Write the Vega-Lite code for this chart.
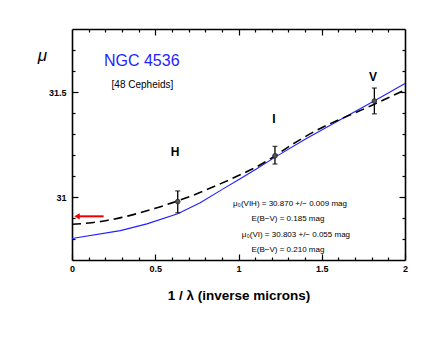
{
  "$schema": "https://vega.github.io/schema/vega-lite/v6.json",
  "autosize": {"type": "none"},
  "width": 333,
  "height": 231,
  "padding": {"left": 72, "top": 29, "right": 31, "bottom": 77},
  "background": "white",
  "config": {
    "view": {"stroke": null},
    "font": "Liberation Sans",
    "axis": {
      "domainColor": "black", "domainWidth": 1.6, "tickColor": "black", "tickWidth": 1.2,
      "grid": false, "labelFont": "Liberation Sans", "labelFontSize": 9, "labelFontWeight": "bold",
      "labelColor": "black", "labelOverlap": false, "labelFlush": false
    }
  },
  "datasets": {
    "curves": [
      {"x": 0, "mu": 30.870, "fit": "VIH"}, {"x": 0.1, "mu": 30.876, "fit": "VIH"}, {"x": 0.2, "mu": 30.887, "fit": "VIH"},
      {"x": 0.3, "mu": 30.903, "fit": "VIH"}, {"x": 0.4, "mu": 30.923, "fit": "VIH"}, {"x": 0.5, "mu": 30.946, "fit": "VIH"},
      {"x": 0.6, "mu": 30.972, "fit": "VIH"}, {"x": 0.7, "mu": 31.000, "fit": "VIH"}, {"x": 0.8, "mu": 31.032, "fit": "VIH"},
      {"x": 0.9, "mu": 31.066, "fit": "VIH"}, {"x": 1.0, "mu": 31.102, "fit": "VIH"}, {"x": 1.1, "mu": 31.140, "fit": "VIH"},
      {"x": 1.2, "mu": 31.186, "fit": "VIH"}, {"x": 1.3, "mu": 31.239, "fit": "VIH"}, {"x": 1.4, "mu": 31.287, "fit": "VIH"},
      {"x": 1.5, "mu": 31.330, "fit": "VIH"}, {"x": 1.6, "mu": 31.367, "fit": "VIH"}, {"x": 1.7, "mu": 31.401, "fit": "VIH"},
      {"x": 1.8, "mu": 31.436, "fit": "VIH"}, {"x": 1.9, "mu": 31.473, "fit": "VIH"}, {"x": 2.0, "mu": 31.510, "fit": "VIH"},
      {"x": 0, "mu": 30.802, "fit": "VI"}, {"x": 0.29, "mu": 30.840, "fit": "VI"}, {"x": 0.45, "mu": 30.872, "fit": "VI"},
      {"x": 0.635, "mu": 30.920, "fit": "VI"}, {"x": 0.77, "mu": 30.973, "fit": "VI"}, {"x": 0.9, "mu": 31.035, "fit": "VI"},
      {"x": 1.0, "mu": 31.082, "fit": "VI"}, {"x": 1.1, "mu": 31.130, "fit": "VI"}, {"x": 1.22, "mu": 31.190, "fit": "VI"},
      {"x": 1.4, "mu": 31.275, "fit": "VI"}, {"x": 1.6, "mu": 31.363, "fit": "VI"}, {"x": 1.82, "mu": 31.460, "fit": "VI"},
      {"x": 2.0, "mu": 31.540, "fit": "VI"}
    ],
    "points": [
      {"band": "H", "x": 0.635, "mu": 30.978, "lo": 30.925, "hi": 31.029},
      {"band": "I", "x": 1.219, "mu": 31.196, "lo": 31.157, "hi": 31.241},
      {"band": "V", "x": 1.816, "mu": 31.457, "lo": 31.396, "hi": 31.519}
    ],
    "bands": [
      {"x": 0.619, "mu": 31.214, "text": "H"},
      {"x": 1.213, "mu": 31.372, "text": "I"},
      {"x": 1.808, "mu": 31.573, "text": "V"}
    ],
    "arrow": [
      {"x": 0.19, "mu": 30.908}, {"x": 0.03, "mu": 30.908}
    ],
    "notes": [
      {"x": 1.309, "mu": 30.968, "text": "μ₀(VIH) = 30.870 +/− 0.009 mag"},
      {"x": 1.297, "mu": 30.897, "text": "E(B−V) = 0.185 mag"},
      {"x": 1.345, "mu": 30.817, "text": "μ₀(VI) = 30.803 +/− 0.055 mag"},
      {"x": 1.297, "mu": 30.746, "text": "E(B−V) = 0.210 mag"}
    ],
    "titles": [
      {"x": 0.419, "mu": 31.650, "text": "NGC 4536", "kind": "name"},
      {"x": 0.423, "mu": 31.535, "text": "[48 Cepheids]", "kind": "count"}
    ],
    "frame": [{"x": 0, "mu": 31}]
  },
  "layer": [
    {
      "encoding": {
        "x": {
          "field": "x", "type": "quantitative",
          "scale": {"domain": [0, 2], "nice": false, "zero": false},
          "axis": {
            "title": "1 / λ (inverse microns)", "titleFontSize": 13.5, "titleFontWeight": "bold", "titleColor": "black",
            "titlePadding": 12, "labelPadding": 10, "format": "~g",
            "values": [0, 0.1, 0.2, 0.3, 0.4, 0.5, 0.6, 0.7, 0.8, 0.9, 1, 1.1, 1.2, 1.3, 1.4, 1.5, 1.6, 1.7, 1.8, 1.9, 2],
            "tickSize": {"condition": {"test": "abs(datum.value*2 - round(datum.value*2)) < 0.000001", "value": -6}, "value": -3},
            "labelExpr": "abs(datum.value*2 - round(datum.value*2)) < 0.000001 ? datum.label : ''"
          }
        },
        "y": {
          "field": "mu", "type": "quantitative",
          "scale": {"domain": [30.7, 31.8], "nice": false, "zero": false},
          "axis": {
            "title": "μ", "titleAngle": 0, "titleFontSize": 17, "titleFontStyle": "italic", "titleFontWeight": "normal",
            "titleColor": "black", "titleX": -30, "titleY": 26, "titleAlign": "center", "titleBaseline": "middle",
            "labelPadding": 12, "format": "~g",
            "values": [30.8, 30.9, 31, 31.1, 31.2, 31.3, 31.4, 31.5, 31.6, 31.7],
            "tickSize": {"condition": {"test": "abs(datum.value*2 - round(datum.value*2)) < 0.000001", "value": -6}, "value": -3},
            "labelExpr": "abs(datum.value*2 - round(datum.value*2)) < 0.000001 ? datum.label : ''"
          }
        }
      },
      "layer": [
        {
          "data": {"name": "curves"},
          "transform": [{"filter": "datum.fit === 'VI'"}],
          "mark": {"type": "line", "color": "#1f1fff", "strokeWidth": 1.1}
        },
        {
          "data": {"name": "curves"},
          "transform": [{"filter": "datum.fit === 'VIH'"}],
          "mark": {"type": "line", "color": "black", "strokeWidth": 1.6, "strokeDash": [9, 5], "interpolate": "monotone"}
        },
        {
          "data": {"name": "points"},
          "mark": {"type": "rule", "color": "black", "strokeWidth": 1.3},
          "encoding": {"y": {"field": "lo", "type": "quantitative", "title": "μ"}, "y2": {"field": "hi"}}
        },
        {
          "data": {"name": "points"},
          "transform": [{"fold": ["lo", "hi"], "as": ["end", "cap"]}],
          "mark": {"type": "tick", "orient": "horizontal", "color": "black", "size": 5, "thickness": 1.3},
          "encoding": {"y": {"field": "cap", "type": "quantitative", "title": "μ"}}
        },
        {
          "data": {"name": "points"},
          "mark": {"type": "point", "filled": true, "color": "#555555", "stroke": "#222222", "strokeWidth": 0.8, "size": 22, "opacity": 1}
        },
        {
          "data": {"name": "arrow"},
          "mark": {"type": "line", "color": "#ee0000", "strokeWidth": 2}
        },
        {
          "data": {"name": "arrow"},
          "transform": [{"filter": "datum.x < 0.1"}],
          "mark": {"type": "point", "shape": "triangle-left", "filled": true, "color": "#ee0000", "size": 40, "opacity": 1}
        },
        {
          "data": {"name": "bands"},
          "mark": {"type": "text", "fontSize": 12, "fontWeight": "bold", "color": "black", "baseline": "middle", "align": "center"},
          "encoding": {"text": {"field": "text"}}
        },
        {
          "data": {"name": "notes"},
          "mark": {"type": "text", "fontSize": 8, "color": "black", "baseline": "middle", "align": "center"},
          "encoding": {"text": {"field": "text"}}
        },
        {
          "data": {"name": "titles"},
          "transform": [{"filter": "datum.kind === 'name'"}],
          "mark": {"type": "text", "fontSize": 16, "color": "#1f1fff", "baseline": "middle", "align": "center"},
          "encoding": {"text": {"field": "text"}}
        },
        {
          "data": {"name": "titles"},
          "transform": [{"filter": "datum.kind === 'count'"}],
          "mark": {"type": "text", "fontSize": 10, "color": "black", "baseline": "middle", "align": "center"},
          "encoding": {"text": {"field": "text"}}
        }
      ]
    },
    {
      "data": {"name": "frame"},
      "mark": {"type": "point", "opacity": 0},
      "encoding": {
        "x": {
          "field": "x", "type": "quantitative",
          "scale": {"domain": [0, 2], "nice": false, "zero": false},
          "axis": {
            "orient": "top", "title": null, "labels": false,
            "values": [0.1, 0.2, 0.3, 0.4, 0.5, 0.6, 0.7, 0.8, 0.9, 1, 1.1, 1.2, 1.3, 1.4, 1.5, 1.6, 1.7, 1.8, 1.9],
            "tickSize": {"condition": {"test": "abs(datum.value*2 - round(datum.value*2)) < 0.000001", "value": -6}, "value": -3}
          }
        },
        "y": {
          "field": "mu", "type": "quantitative",
          "scale": {"domain": [30.7, 31.8], "nice": false, "zero": false},
          "axis": {
            "orient": "right", "title": null, "labels": false,
            "values": [30.8, 30.9, 31, 31.1, 31.2, 31.3, 31.4, 31.5, 31.6, 31.7],
            "tickSize": {"condition": {"test": "abs(datum.value*2 - round(datum.value*2)) < 0.000001", "value": -6}, "value": -3}
          }
        }
      }
    }
  ],
  "resolve": {
    "scale": {"x": "independent", "y": "independent"},
    "axis": {"x": "independent", "y": "independent"}
  }
}
